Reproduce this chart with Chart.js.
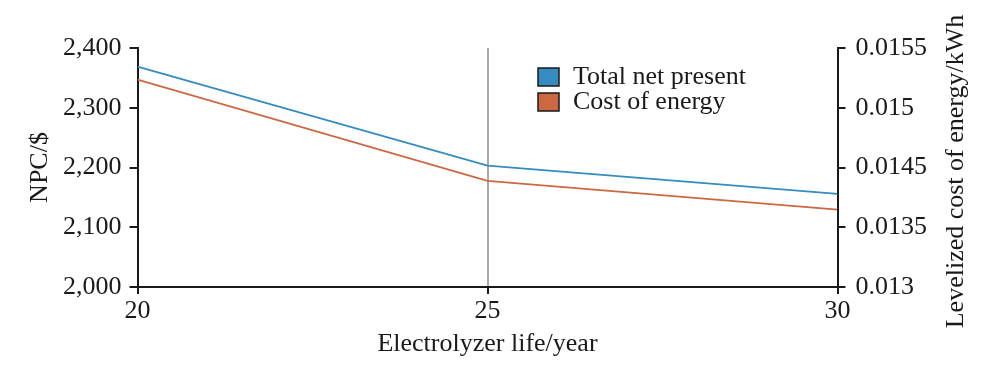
<!DOCTYPE html>
<html>
<head>
<meta charset="utf-8">
<script src="https://cdn.jsdelivr.net/npm/chart.js@4.4.1/dist/chart.umd.min.js"></script>
<style>
  html, body { margin: 0; padding: 0; background: #fff; }
  #wrap { width: 996px; height: 376px; }
</style>
</head>
<body>
<div id="wrap"><canvas id="chart"></canvas></div>
<script>
// data
var years = [20, 25, 30];
var npcValues = [2369, 2203, 2156];          // Total net present (left axis, $)
var coeValues = [0.01517, 0.01411, 0.01381]; // Cost of energy (right axis, $/kWh)
var rightTickLabels = ['0.013', '0.0135', '0.0145', '0.015', '0.0155'];

var FONT = '"Liberation Serif", "Times New Roman", serif';
var FS = 26;
var BLUE = 'rgb(52,140,192)';
var ORANGE = 'rgb(204,104,66)';
var INK = '#1a1a1a';

function pts(vals) {
    return years.map(function (x, i) { return { x: x, y: vals[i] }; });
}

// right title reads bottom-to-top, and legend sits inside the plot
var extras = {
    id: 'extras',
    afterDraw: function (chart) {
        var c = chart.ctx, area = chart.chartArea;
        c.save();
        c.fillStyle = INK;
        c.font = FS + 'px ' + FONT;
        c.textAlign = 'center';
        c.textBaseline = 'middle';
        c.translate(956, (area.top + area.bottom) / 2 + 4);
        c.rotate(-Math.PI / 2);
        c.fillText('Levelized cost of energy/kWh', 0, 0);
        c.restore();

        c.save();
        c.font = FS + 'px ' + FONT;
        c.textBaseline = 'middle';
        chart.data.datasets.forEach(function (ds, i) {
            var y = 68 + i * 25;
            c.fillStyle = ds.borderColor;
            c.fillRect(538, y, 21, 18);
            c.strokeStyle = INK;
            c.lineWidth = 1.5;
            c.strokeRect(538, y, 21, 18);
            c.fillStyle = INK;
            c.fillText(ds.label, 573, y + 9);
        });
        c.restore();
    }
};

var ctx = document.getElementById('chart').getContext('2d');
new Chart(ctx, {
    type: 'line',
    data: {
        datasets: [{
            label: 'Total net present',
            data: pts(npcValues),
            yAxisID: 'y',
            borderColor: BLUE,
            backgroundColor: BLUE,
            borderWidth: 1.8,
            pointRadius: 0,
            tension: 0
        }, {
            label: 'Cost of energy',
            data: pts(coeValues),
            yAxisID: 'y2',
            borderColor: ORANGE,
            backgroundColor: ORANGE,
            borderWidth: 1.8,
            pointRadius: 0,
            tension: 0
        }]
    },
    options: {
        responsive: true,
        maintainAspectRatio: false,
        animation: false,
        layout: { padding: { left: 27, right: 59, top: 48, bottom: 19 } },
        plugins: { legend: { display: false }, tooltip: { enabled: false } },
        scales: {
            x: {
                type: 'linear',
                min: 20, max: 30,
                ticks: { stepSize: 5, color: INK, font: { family: FONT, size: FS, lineHeight: 1.0 }, padding: 4 },
                grid: {
                    color: function (c) { return c.tick && c.tick.value === 25 ? '#a8a8a8' : 'rgba(0,0,0,0)'; },
                    lineWidth: 2,
                    tickColor: INK,
                    tickLength: 7
                },
                border: { color: INK, width: 2 },
                title: { display: true, text: 'Electrolyzer life/year', color: INK, font: { family: FONT, size: FS, lineHeight: 1.0 }, padding: { top: 3, bottom: 0 } }
            },
            y: {
                position: 'left',
                min: 2000, max: 2400,
                ticks: {
                    stepSize: 100, color: INK, font: { family: FONT, size: FS }, padding: 8,
                    callback: function (v) { return v.toLocaleString('en-US'); }
                },
                grid: { drawOnChartArea: false, tickColor: INK, tickLength: 8, lineWidth: 2 },
                border: { color: INK, width: 2 },
                title: { display: true, text: 'NPC/$', color: INK, font: { family: FONT, size: FS, lineHeight: 1.0 }, padding: { top: 0, bottom: 2 } }
            },
            y2: {
                position: 'right',
                min: 0.013, max: 0.0155,
                afterBuildTicks: function (scale) {
                    scale.ticks = rightTickLabels.map(function (t, i) {
                        return { value: 0.013 + i * (0.0155 - 0.013) / (rightTickLabels.length - 1) };
                    });
                },
                ticks: {
                    color: INK, font: { family: FONT, size: FS }, padding: 10,
                    callback: function (v, i) { return rightTickLabels[i]; }
                },
                grid: { drawOnChartArea: false, tickColor: INK, tickLength: 8, lineWidth: 2 },
                border: { color: INK, width: 2 }
            }
        }
    },
    plugins: [extras]
});
</script>
</body>
</html>
